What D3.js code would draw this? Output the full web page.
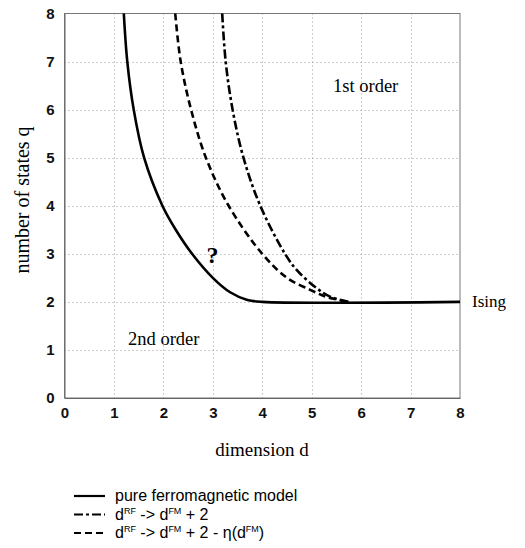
<!DOCTYPE html>
<html>
<head>
<meta charset="utf-8">
<script src="https://cdn.jsdelivr.net/npm/d3@7"></script>
<style>
  html, body { margin: 0; padding: 0; background: #fff; }
  svg { display: block; }
</style>
</head>
<body>
<svg id="chart" width="525" height="548"></svg>
<script>
// Phase boundary q_c(d) for the pure ferromagnetic Potts model and the random-field shifts
const xTicks = [0, 1, 2, 3, 4, 5, 6, 7, 8];
const yTicks = [0, 1, 2, 3, 4, 5, 6, 7, 8];

// pure ferromagnetic model
const dPure = [1.20, 1.27, 1.40, 1.61, 1.98, 2.25, 2.58, 3.00, 3.35, 3.70, 4.00, 8.00];
const qPure = [8, 7, 6, 5, 4, 3.5, 3, 2.5, 2.2, 2.04, 2, 2];

// d^RF -> d^FM + 2
const dShift = [3.19, 3.26, 3.40, 3.62, 3.96, 4.46, 4.70, 5.07, 5.37, 5.75];
const qShift = [8, 7, 6, 5, 4, 3, 2.66, 2.31, 2.11, 2];

// d^RF -> d^FM + 2 - eta(d^FM)
const dEta = [2.24, 2.35, 2.56, 2.86, 3.32, 4.00, 4.50, 4.97, 5.31, 5.75];
const qEta = [8, 7, 6, 5, 4, 3, 2.5, 2.25, 2.10, 2];

const svg = d3.select("#chart");
const plotLeft = 64.5, plotRight = 460, plotTop = 13.5, plotBottom = 398;

const x = d3.scaleLinear().domain([0, 8]).range([plotLeft, plotRight]);
const y = d3.scaleLinear().domain([0, 8]).range([plotBottom, plotTop]);

const serif = "'Liberation Serif', 'Times New Roman', Times, serif";
const sans = "'Liberation Sans', Arial, Helvetica, sans-serif";

// dotted grid
const grid = svg.append("g").attr("stroke", "#9a9a9a").attr("stroke-width", 1)
  .attr("stroke-dasharray", "1,3");
grid.selectAll("line.v").data(xTicks.filter(t => t > 0 && t < 8)).join("line")
  .attr("class", "v")
  .attr("x1", d => Math.round(x(d)) + 0.5).attr("x2", d => Math.round(x(d)) + 0.5)
  .attr("y1", plotTop).attr("y2", plotBottom);
grid.selectAll("line.h").data(yTicks.filter(t => t > 0 && t < 8)).join("line")
  .attr("class", "h")
  .attr("y1", d => Math.round(y(d)) + 0.5).attr("y2", d => Math.round(y(d)) + 0.5)
  .attr("x1", plotLeft).attr("x2", plotRight);

// frame
svg.append("rect")
  .attr("x", plotLeft).attr("y", plotTop)
  .attr("width", plotRight - plotLeft).attr("height", plotBottom - plotTop)
  .attr("fill", "none").attr("stroke", "#777").attr("stroke-width", 1);

// axes
const xAxis = svg.append("g").attr("transform", `translate(0,${plotBottom})`)
  .call(d3.axisBottom(x).tickValues(xTicks).tickFormat(d3.format("d")).tickSize(0).tickPadding(9));
const yAxis = svg.append("g").attr("transform", `translate(${plotLeft},0)`)
  .call(d3.axisLeft(y).tickValues(yTicks).tickFormat(d3.format("d")).tickSize(0).tickPadding(10));
[xAxis, yAxis].forEach(a => {
  a.select(".domain").attr("stroke", "#666");
  a.selectAll("text").attr("font-family", sans).attr("font-weight", "bold")
    .attr("font-size", 15).attr("fill", "#111");
});

// curves
const line = (ds, qs) => d3.line()
  .x((d, i) => x(ds[i])).y((d, i) => y(qs[i]))
  .curve(d3.curveCatmullRom.alpha(0.5))(ds);

const series = [
  { ds: dPure, qs: qPure, dash: null, w: 2.6 },
  { ds: dShift, qs: qShift, dash: "9,3,3,3", w: 2.6 },
  { ds: dEta, qs: qEta, dash: "7,4", w: 2.6 }
];
svg.append("g").selectAll("path").data(series).join("path")
  .attr("d", s => line(s.ds, s.qs))
  .attr("fill", "none").attr("stroke", "#000")
  .attr("stroke-width", s => s.w)
  .attr("stroke-dasharray", s => s.dash);

// annotations
svg.append("text").attr("x", 333).attr("y", 92).attr("font-family", serif)
  .attr("font-size", 18.5).text("1st order");
svg.append("text").attr("x", 128).attr("y", 345).attr("font-family", serif)
  .attr("font-size", 18.5).text("2nd order");
svg.append("text").attr("x", 472).attr("y", 307).attr("font-family", serif)
  .attr("font-size", 17).text("Ising");
svg.append("text").attr("x", 212.5).attr("y", 263).attr("text-anchor", "middle")
  .attr("font-family", serif).attr("font-weight", "bold").attr("font-size", 24).text("?");

// axis titles
svg.append("text").attr("x", 262).attr("y", 456).attr("text-anchor", "middle")
  .attr("font-family", serif).attr("font-size", 19).text("dimension d");
svg.append("text").attr("transform", "translate(29,200) rotate(-90)")
  .attr("text-anchor", "middle").attr("font-family", serif).attr("font-size", 20)
  .text("number of states q");

// legend
const legend = svg.append("g").attr("font-family", sans).attr("font-size", 16).attr("fill", "#000");
const rows = [
  { dash: null, parts: [["pure ferromagnetic model", false]] },
  { dash: "9,3,3,3", parts: [["d", false], ["RF", true], [" -> d", false], ["FM", true], [" + 2", false]] },
  { dash: "7,4", parts: [["d", false], ["RF", true], [" -> d", false], ["FM", true], [" + 2 - η(d", false], ["FM", true], [")", false]] }
];
rows.forEach((r, i) => {
  const by = 501 + i * 18.5;
  legend.append("line").attr("x1", 74).attr("x2", 105)
    .attr("y1", by - 5).attr("y2", by - 5)
    .attr("stroke", "#000").attr("stroke-width", 2.2)
    .attr("stroke-dasharray", r.dash);
  const t = legend.append("text").attr("x", 115).attr("y", by);
  let prevSup = false;
  r.parts.forEach(([s, sup]) => {
    const ts = t.append("tspan").text(s);
    if (sup) ts.attr("font-size", 9).attr("dy", prevSup ? 0 : -6);
    else ts.attr("dy", prevSup ? 6 : 0);
    prevSup = sup;
  });
});
</script>
</body>
</html>
